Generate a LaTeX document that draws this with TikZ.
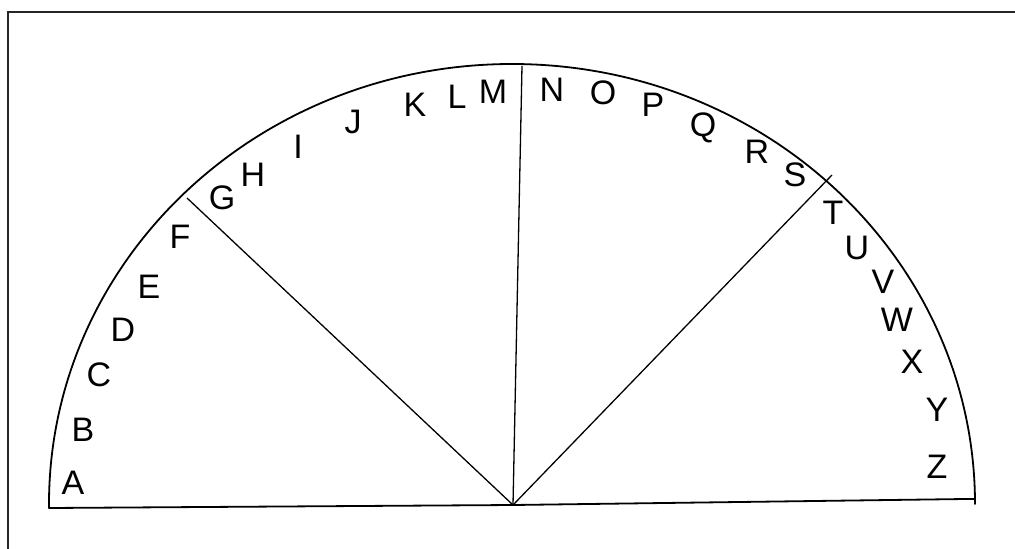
\documentclass[tikz,border=0pt]{standalone}
\usepackage{fontspec}
\setmainfont{Liberation Sans}
\begin{document}
\begin{tikzpicture}[x=1pt,y=-1pt,
  ltr/.style={font=\fontsize{34}{34}\selectfont, inner sep=0pt, anchor=center},
  rim/.style={line width=1.8pt, line join=round},
  spoke/.style={line width=1.3pt}]
\useasboundingbox (0,0) rectangle (1015,549);
\begin{scope}
\clip (0,0) rectangle (1015,549);
\draw[line width=2.8pt, draw=black!85] (8,12) rectangle (1030,570);
\end{scope}
% key points
\coordinate (O) at (513,505);
\coordinate (Lend) at (49,508);
\coordinate (Rend) at (975,499);
\coordinate (pFG) at (187,198);
\coordinate (pTop) at (522,66);
\coordinate (pST) at (832,175);
% semicircle rim
\draw[rim] (Lend) -- (49,504) arc[start angle=180, end angle=0, x radius=463, y radius=-440] -- (Rend) -- (965,499) -- (O) -- cycle;
% spokes
\draw[spoke] (O) -- (pFG);
\draw[spoke] (O) -- (pTop);
\draw[spoke] (O) -- (pST);
% letters
\node[ltr] (A) at (73,483) {A};
\node[ltr] (B) at (83,430) {B};
\node[ltr] (C) at (99,375) {C};
\node[ltr] (D) at (123,330) {D};
\node[ltr] (E) at (149,287) {E};
\node[ltr] (F) at (180,237) {F};
\node[ltr] (G) at (222,198) {G};
\node[ltr] (H) at (253,175) {H};
\node[ltr] (I) at (298,147) {I};
\node[ltr] (J) at (353,122) {J};
\node[ltr] (K) at (415,105) {K};
\node[ltr] (L) at (457,97) {L};
\node[ltr] (M) at (493,92) {M};
\node[ltr] (N) at (552,90) {N};
\node[ltr] (Ol) at (603,93) {O};
\node[ltr] (P) at (653,105) {P};
\node[ltr] (Q) at (703,128) {Q};
\node[ltr] (R) at (757,152) {R};
\node[ltr] (S) at (795,175) {S};
\node[ltr] (T) at (833,213) {T};
\node[ltr] (U) at (857,248) {U};
\node[ltr] (V) at (883,282) {V};
\node[ltr] (W) at (897,320) {W};
\node[ltr] (X) at (912,362) {X};
\node[ltr] (Y) at (937,410) {Y};
\node[ltr] (Z) at (937,467) {Z};
\end{tikzpicture}
\end{document}
